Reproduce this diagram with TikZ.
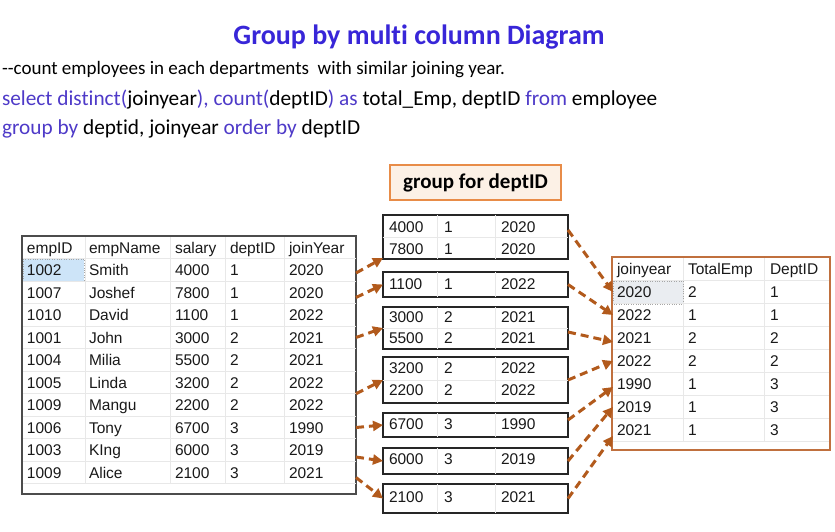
\documentclass[tikz,border=0pt]{standalone}
\usepackage{fontspec}
\setmainfont{Carlito}[Ligatures={TeX,NoCommon}]
\newfontfamily\tabfont{Liberation Sans}
\usetikzlibrary{positioning, arrows.meta}
\definecolor{titleblue}{RGB}{56,38,216}
\definecolor{kwblue}{RGB}{78,58,200}
\definecolor{arrowbrown}{RGB}{178,90,28}
\definecolor{frameorange}{RGB}{192,112,62}
\definecolor{labelorange}{RGB}{232,140,72}
\definecolor{labelfill}{RGB}{252,241,230}
\definecolor{selblue}{RGB}{205,228,248}
\definecolor{selgray}{RGB}{234,237,241}

\begin{document}
\begin{tikzpicture}[x=1pt, y=-1pt, >={Triangle[length=10pt,width=10pt]},
    every node/.style={inner sep=0pt, outer sep=0pt},
    cell/.style={anchor=west, text=black!90, text height=11pt, text depth=0pt,
      font=\tabfont\fontsize{15.5}{18}\selectfont},
    rowbox/.style={anchor=west, minimum height=22.5pt},
    gridline/.style={draw=gray!18, line width=0.8pt},
    grpbox/.style={draw=black!85, line width=1.6pt, anchor=north west, minimum width=185pt},
    flow/.style={->, color=arrowbrown, line width=3pt, dash pattern=on 8pt off 5pt}]
  \useasboundingbox (0,0) rectangle (835,531);

  % heading and query
  \node[text=titleblue, font=\bfseries\fontsize{28}{32}\selectfont] (title) at (419,37) {Group by multi column Diagram};
  \node[anchor=west, font=\fontsize{19}{22}\selectfont] (note) at (2,70) {-{}-count employees in each departments\ \ with similar joining year.};
  \node[anchor=west, font=\fontsize{21.3}{24}\selectfont] (sql1) at (2,100) {\textcolor{kwblue}{select distinct(}joinyear\textcolor{kwblue}{), count(}deptID\textcolor{kwblue}{) as} total\_Emp, deptID \textcolor{kwblue}{from} employee};
  \node[anchor=west, font=\fontsize{21.3}{24}\selectfont] (sql2) at (2,129) {\textcolor{kwblue}{group by} deptid, joinyear \textcolor{kwblue}{order by} deptID};

  % employee table
  \node[draw=black!70, line width=1.2pt, anchor=north west, minimum width=334pt, minimum height=258pt] (emp) at (22,236) {};
  \node[rowbox, minimum width=333pt] (r0) at (23,247.5) {};
  \foreach \x in {85,170,225,284} \draw[gridline] (\x,237) -- (\x,483);
  \draw[fill=selblue, draw=gray!70, dotted] (23,259) rectangle (84,281);
  \node[cell] (h1) at ([xshift=4pt]r0.west) {empID};
  \node[cell] (h2) at ([xshift=66pt]r0.west) {empName};
  \node[cell] (h3) at ([xshift=152pt]r0.west) {salary};
  \node[cell] (h4) at ([xshift=207pt]r0.west) {deptID};
  \node[cell] (h5) at ([xshift=266pt]r0.west) {joinYear};
  \draw[gridline] (r0.south west) -- (r0.south east);
  \foreach \id/\nm/\sal/\dep/\yr [count=\i] in {1002/Smith/4000/1/2020, 1007/Joshef/7800/1/2020,
      1010/David/1100/1/2022, 1001/John/3000/2/2021, 1004/Milia/5500/2/2021, 1005/Linda/3200/2/2022,
      1009/Mangu/2200/2/2022, 1006/Tony/6700/3/1990, 1003/KIng/6000/3/2019, 1009/Alice/2100/3/2021} {
    \node[rowbox, minimum width=333pt] (r\i) at (23,{247.5+22.5*\i}) {};
    \draw[gridline] (r\i.south west) -- (r\i.south east);
    \node[cell] (id\i) at ([xshift=4pt]r\i.west) {\id};
    \node[cell] (nm\i) at ([xshift=66pt]r\i.west) {\nm};
    \node[cell] (sal\i) at ([xshift=152pt]r\i.west) {\sal};
    \node[cell] (dep\i) at ([xshift=207pt]r\i.west) {\dep};
    \node[cell] (yr\i) at ([xshift=266pt]r\i.west) {\yr};
  }

  % groups
  \node[grpbox, minimum height=44pt] (box1) at (383,215) {};
  \node[grpbox, minimum height=25pt] (box2) at (383,272) {};
  \node[grpbox, minimum height=42pt] (box3) at (383,307) {};
  \node[grpbox, minimum height=46pt] (box4) at (383,357) {};
  \node[grpbox, minimum height=24pt] (box5) at (383,413) {};
  \node[grpbox, minimum height=26pt] (box6) at (383,448) {};
  \node[grpbox, minimum height=29pt] (box7) at (383,484) {};
  \foreach \b in {1,3,4} \draw[gridline] (box\b.west) -- (box\b.east);
  \foreach \b in {1,...,7} {
    \draw[gridline] ([xshift=54pt]box\b.north west) -- ([xshift=54pt]box\b.south west);
    \draw[gridline] ([xshift=112pt]box\b.north west) -- ([xshift=112pt]box\b.south west);
  }
  \foreach \y/\s/\d/\j [count=\k] in {227/4000/1/2020, 249/7800/1/2020, 284/1100/1/2022,
      317/3000/2/2021, 338/5500/2/2021, 368/3200/2/2022, 390/2200/2/2022,
      424/6700/3/1990, 459/6000/3/2019, 497/2100/3/2021} {
    \node[cell] (gs\k) at (389,\y) {\s};
    \node[cell] (gd\k) at (444,\y) {\d};
    \node[cell] (gy\k) at (501,\y) {\j};
  }
  \node[draw=labelorange, fill=labelfill, line width=1.2pt, minimum width=171pt, minimum height=35pt,
    font=\bfseries\fontsize{21}{24}\selectfont, above=15pt of box1] (grp) {group for deptID};

  % result table
  \node[draw=frameorange, line width=1.6pt, anchor=north west, minimum width=218pt, minimum height=193pt] (res) at (612,257) {};
  \node[rowbox, minimum width=216pt, minimum height=23pt] (q0) at (613,269) {};
  \foreach \x in {683,764} \draw[gridline] (\x,258) -- (\x,441);
  \draw[fill=selgray, draw=gray!70, dotted] (613,281) rectangle (683,304);
  \node[cell] (k1) at ([xshift=4pt]q0.west) {joinyear};
  \node[cell] (k2) at ([xshift=75pt]q0.west) {TotalEmp};
  \node[cell] (k3) at ([xshift=157pt]q0.west) {DeptID};
  \draw[gridline] (q0.south west) -- (q0.south east);
  \foreach \yr/\tot/\dep [count=\i] in {2020/2/1, 2022/1/1, 2021/2/2, 2022/2/2, 1990/1/3, 2019/1/3, 2021/1/3} {
    \node[rowbox, minimum width=216pt, minimum height=23pt] (q\i) at (613,{269+23*\i}) {};
    \draw[gridline] (q\i.south west) -- (q\i.south east);
    \node[cell] (jy\i) at ([xshift=4pt]q\i.west) {\yr};
    \node[cell] (te\i) at ([xshift=75pt]q\i.west) {\tot};
    \node[cell] (di\i) at ([xshift=157pt]q\i.west) {\dep};
  }

  % rows to groups
  \path[flow] ([yshift=-3pt]r1.east) edge ([yshift=1pt]box1.south west)
    ([yshift=-5pt]r2.east) edge (box2.west)
    (r4.east) edge (box3.west)
    (r6.south east) edge (box4.west)
    (r8.east) edge (box5.west)
    ([yshift=-7pt]r9.east) edge (box6.west)
    ([yshift=-5pt]r10.east) edge (box7.west);
  % groups to result
  \path[flow] ([yshift=7pt]box1.east) edge (q1.west)
    (box2.east) edge (q2.west)
    ([yshift=-4pt]box3.east) edge ([yshift=-4pt]q3.west)
    (box4.east) edge (q4.west)
    ([yshift=5pt]box5.east) edge ([yshift=-3pt]q5.west)
    (box6.east) edge (q6.west)
    (box7.east) edge ([yshift=-6pt]q7.west);
\end{tikzpicture}
\end{document}
